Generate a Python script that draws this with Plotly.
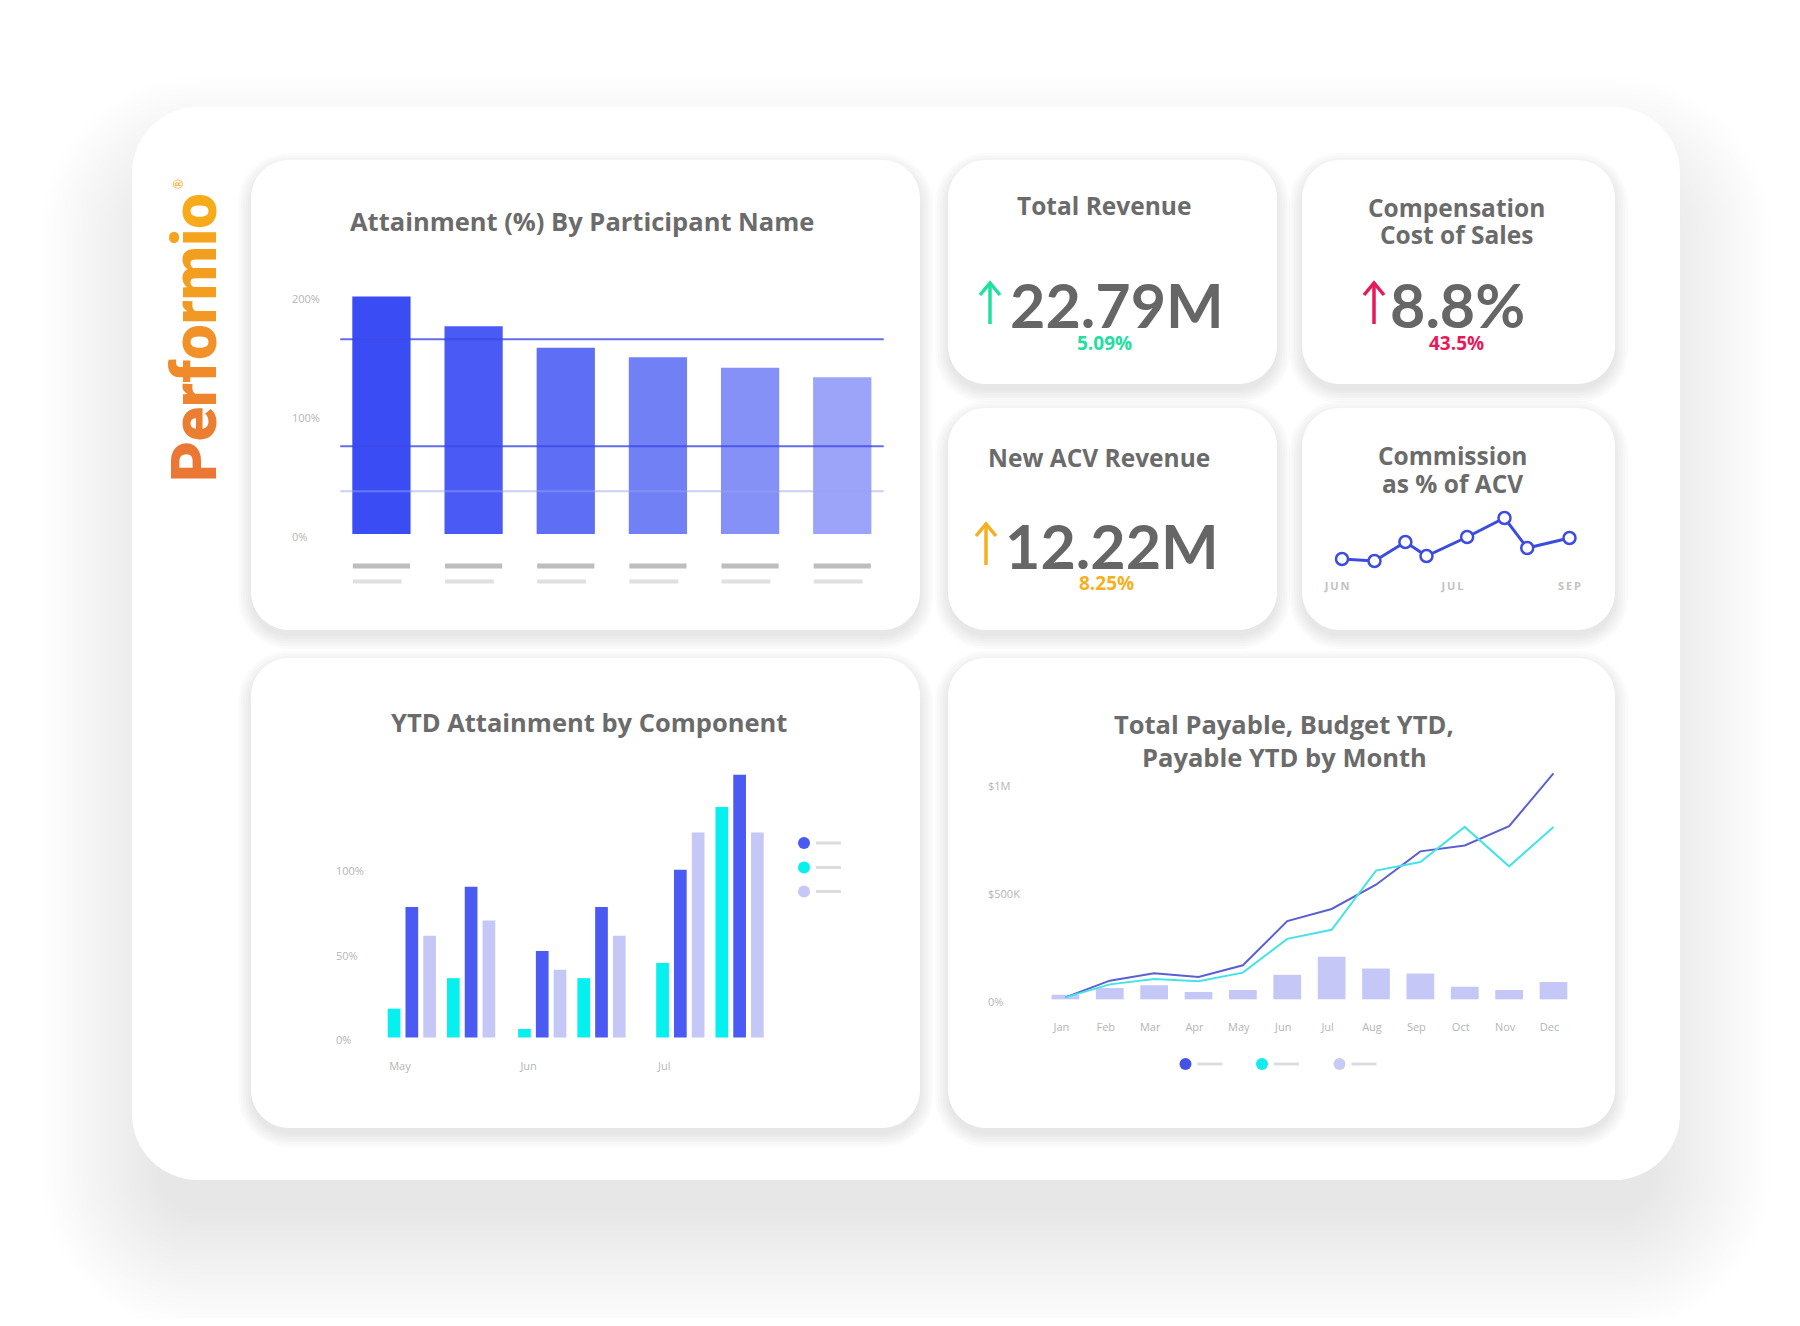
import plotly.graph_objects as go

W, H = 1800, 1326          # reference page
OFF = 8                    # default <body> margin around the plot div
WF, HF = W - 2 * OFF, H - 2 * OFF
TITLE_FONT = "Open Sans"
NUM_FONT = "Lato"
TITLE_GREY = "#6b6b6b"
NUM_GREY = "#666666"
TICK_GREY = "#b5b5b5"

participants = ["P1", "P2", "P3", "P4", "P5", "P6"]          # names are blurred placeholders
attainment = [200, 175, 157, 149, 140, 132]                   # %
attainment_marks = [164, 74, 36]                              # horizontal reference lines, %
bar_blues = ["#3a4df5", "#4a5bf5", "#5e6ef5", "#7280f6", "#8691f7", "#9ba4f9"]

total_revenue, total_revenue_chg = "22.79M", "5.09%"
comp_cost, comp_cost_chg = "8.8%", "43.5%"
new_acv, new_acv_chg = "12.22M", "8.25%"

commission_t = [0, 1, 1.95, 2.6, 3.85, 5, 5.7, 7]             # time position (weeks-ish)
commission_pct = [3.05, 2.95, 3.9, 3.2, 4.15, 5.1, 3.6, 4.1]
commission_months = ["J\u2009U\u2009N", "J\u2009U\u2009L", "S\u2009E\u2009P"]

ytd_period = [0, 1, 2.2, 3.2, 4.53, 5.53]                     # two periods per month
ytd_months = ["May", "Jun", "Jul"]
ytd_comp_a = [17, 35, 5, 35, 44, 136]                         # cyan
ytd_comp_b = [77, 89, 51, 77, 99, 155]                        # blue
ytd_comp_c = [60, 69, 40, 60, 121, 121]                       # lavender

months = ["Jan", "Feb", "Mar", "Apr", "May", "Jun",
          "Jul", "Aug", "Sep", "Oct", "Nov", "Dec"]
total_payable = [21, 52, 65, 34, 43, 113, 197, 142, 119, 58, 43, 80]       # $K
budget_ytd = [9, 86, 120, 103, 157, 361, 417, 529, 683, 710, 799, 1043]    # $K
payable_ytd = [9, 69, 94, 83, 123, 279, 321, 594, 634, 796, 614, 796]      # $K

CYAN, BLUE, LAV = "#05f0ef", "#4a5af2", "#c5c8f7"


# --- pixel helpers (layout measured on the 1800x1326 page) -----------------
def X(px):
    return (px - OFF) / WF


def Y(py):
    return 1 - (py - OFF) / HF


def xdom(a, b):
    return [X(a), X(b)]


def ydom(top, bottom):
    return [Y(bottom), Y(top)]


def rrect(x0, y0, x1, y1, r):
    k = 0.5523 * r
    p = [f"M {X(x0 + r)},{Y(y0)}", f"L {X(x1 - r)},{Y(y0)}",
         f"C {X(x1 - r + k)},{Y(y0)} {X(x1)},{Y(y0 + r - k)} {X(x1)},{Y(y0 + r)}",
         f"L {X(x1)},{Y(y1 - r)}",
         f"C {X(x1)},{Y(y1 - r + k)} {X(x1 - r + k)},{Y(y1)} {X(x1 - r)},{Y(y1)}",
         f"L {X(x0 + r)},{Y(y1)}",
         f"C {X(x0 + r - k)},{Y(y1)} {X(x0)},{Y(y1 - r + k)} {X(x0)},{Y(y1 - r)}",
         f"L {X(x0)},{Y(y0 + r)}",
         f"C {X(x0)},{Y(y0 + r - k)} {X(x0 + r - k)},{Y(y0)} {X(x0 + r)},{Y(y0)}", "Z"]
    return " ".join(p)


shapes, notes = [], []


def card(box, r, layers, step, alpha, dy, inset=0):
    # white rounded card with a faked blurred drop shadow (stacked translucent layers)
    x0, y0, x1, y1 = box
    for i in range(layers, 0, -1):
        g = i * step - inset
        shapes.append(dict(type="path", xref="paper", yref="paper", layer="below",
                           path=rrect(x0 - g, y0 - g + dy, x1 + g, y1 + g + dy, max(r + g, 4)),
                           fillcolor=f"rgba(0,0,0,{alpha})", line_width=0))
    shapes.append(dict(type="path", xref="paper", yref="paper", layer="below",
                       path=rrect(x0, y0, x1, y1, r), fillcolor="white", line_width=0))


def text(s, x, y, size, color=TITLE_GREY, family=TITLE_FONT, weight="bold",
         xanchor="center", angle=0):
    notes.append(dict(text=s, x=X(x), y=Y(y), xref="paper", yref="paper",
                      xanchor=xanchor, yanchor="middle", showarrow=False, textangle=angle,
                      font=dict(family=family, size=size, color=color, weight=weight)))


def up_arrow(cx, top, bottom, color):
    shapes.append(dict(type="path", xref="paper", yref="paper",
                       path=f"M {X(cx)},{Y(bottom)} L {X(cx)},{Y(top + 1)}",
                       line=dict(color=color, width=3.5)))
    shapes.append(dict(type="path", xref="paper", yref="paper",
                       path=f"M {X(cx - 10)},{Y(top + 12)} L {X(cx)},{Y(top)} L {X(cx + 10)},{Y(top + 12)}",
                       line=dict(color=color, width=3.5)))


def legend_dots(xs, ys, colors, line_len=25):
    for cx, cy, c in zip(xs, ys, colors):
        shapes.append(dict(type="circle", xref="paper", yref="paper",
                           x0=X(cx - 6), x1=X(cx + 6), y0=Y(cy + 6), y1=Y(cy - 6),
                           fillcolor=c, line_width=0))
        shapes.append(dict(type="line", xref="paper", yref="paper",
                           x0=X(cx + 12), x1=X(cx + 12 + line_len), y0=Y(cy), y1=Y(cy),
                           line=dict(color="#dcdcdc", width=3)))


# --- background cards ------------------------------------------------------
card((132, 107, 1680, 1180), 66, 24, 5, 0.005, 60, inset=30)
for box in [(251, 160, 920, 630), (948, 160, 1277, 384), (1302, 160, 1615, 384),
            (948, 408, 1277, 630), (1302, 408, 1615, 630),
            (251, 658, 920, 1128), (948, 658, 1615, 1128)]:
    card(box, 38, 6, 2.5, 0.014, 6, inset=2)

# --- logo --------------------------------------------------------------------
logo = "Performio"
c0, c1 = (235, 119, 52), (247, 171, 26)
spans = []
for i, ch in enumerate(logo):
    t = i / (len(logo) - 1)
    rgb = tuple(round(a + (b - a) * t) for a, b in zip(c0, c1))
    spans.append(f"<span style='color:rgb{rgb}'>{ch}</span>")
notes.append(dict(text="".join(spans), x=X(195), y=Y(338), xref="paper", yref="paper",
                  xanchor="center", yanchor="middle", showarrow=False, textangle=-90,
                  font=dict(family="Roboto", size=63, weight=900)))
text("®", 179, 184, 12, "#f5a623", weight="normal", angle=-90)

fig = go.Figure()

# --- Attainment (%) By Participant Name -------------------------------------
part_idx = list(range(len(participants)))
fig.add_trace(go.Bar(x=part_idx, y=attainment, width=0.632, hovertext=participants,
                     marker=dict(color=bar_blues, line_width=0), xaxis="x", yaxis="y"))
for v, col in zip(attainment_marks, ["rgba(60,72,228,0.8)", "rgba(60,72,228,0.8)",
                                     "rgba(150,160,245,0.5)"]):
    shapes.append(dict(type="line", xref="x", yref="y", x0=-0.447, x1=5.45, y0=v, y1=v,
                       line=dict(color=col, width=2)))
for i in part_idx:   # blurred name placeholders under each bar
    shapes.append(dict(type="line", xref="x", yref="y", x0=i - 0.31, x1=i + 0.31,
                       y0=-27, y1=-27, line=dict(color="#bdbdbd", width=5)))
    shapes.append(dict(type="line", xref="x", yref="y", x0=i - 0.31, x1=i + 0.22,
                       y0=-40, y1=-40, line=dict(color="#e0e0e0", width=4)))
text("Attainment (%) By Participant Name", 582, 221, 25.5)

# --- KPI cards -----------------------------------------------------------------
text("Total Revenue", 1104, 205, 24.5)
up_arrow(990, 283, 324, "#1fe0a0")
text(total_revenue, 1008, 304, 61, NUM_GREY, NUM_FONT, xanchor="left")
text(total_revenue_chg, 1104, 343, 19, "#1fe0a0")

text("Compensation", 1456, 207, 24.5)
text("Cost of Sales", 1456, 234, 24.5)
up_arrow(1374, 283, 324, "#e8195a")
text(comp_cost, 1388, 304, 61, NUM_GREY, NUM_FONT, xanchor="left")
text(comp_cost_chg, 1456, 343, 19, "#e8195a")

text("New ACV Revenue", 1099, 457, 24.5)
up_arrow(986, 524, 565, "#f5b021")
text(new_acv, 1003, 545, 61, NUM_GREY, NUM_FONT, xanchor="left")
text(new_acv_chg, 1106, 583, 19, "#f5b021")

text("Commission", 1452, 456, 24.5)
text("as % of ACV", 1452, 483, 24.5)
fig.add_trace(go.Scatter(x=commission_t, y=commission_pct, mode="lines+markers",
                         line=dict(color="#3d4ce0", width=3),
                         marker=dict(size=12, color="white", line=dict(color="#3d4ce0", width=2.5)),
                         xaxis="x2", yaxis="y2"))

# --- YTD Attainment by Component --------------------------------------------
for vals, col in [(ytd_comp_a, CYAN), (ytd_comp_b, BLUE), (ytd_comp_c, LAV)]:
    fig.add_trace(go.Bar(x=ytd_period, y=vals, marker=dict(color=col, line_width=0),
                         xaxis="x3", yaxis="y3"))
text("YTD Attainment by Component", 589, 722, 25.5)
legend_dots([804, 804, 804], [843, 867.5, 891.5], [BLUE, CYAN, LAV])

# --- Total Payable, Budget YTD, Payable YTD by Month ------------------------
month_idx = list(range(len(months)))
fig.add_trace(go.Bar(x=month_idx, y=total_payable, width=0.625, name="Total Payable",
                     marker=dict(color=LAV, line_width=0), xaxis="x4", yaxis="y4"))
fig.add_trace(go.Scatter(x=month_idx, y=budget_ytd, mode="lines", name="Budget YTD",
                         line=dict(color="#5a5fd6", width=2), xaxis="x4", yaxis="y4"))
fig.add_trace(go.Scatter(x=month_idx, y=payable_ytd, mode="lines", name="Payable YTD",
                         line=dict(color="#45e3e8", width=2), xaxis="x4", yaxis="y4"))
text("Total Payable, Budget YTD,", 1284, 724, 25.5)
text("Payable YTD by Month", 1284, 757, 25.5)
legend_dots([1185.5, 1262, 1339.5], [1064, 1064, 1064], ["#4452e6", "#10ecef", "#c8cbf5"])

tickfont = dict(family=TITLE_FONT, size=11, color=TICK_GREY)
hidden = dict(showgrid=False, zeroline=False, showline=False, ticks="")

fig.update_layout(
    width=WF, height=HF, margin=dict(l=0, r=0, t=0, b=0),
    paper_bgcolor="white", plot_bgcolor="rgba(0,0,0,0)",
    showlegend=False, barmode="group", bargap=0.1, bargroupgap=0.286,
    shapes=shapes, annotations=notes,
    xaxis=dict(domain=xdom(289, 884), range=[-1.003, 5.453], anchor="y",
               showticklabels=False, **hidden),
    yaxis=dict(domain=ydom(280, 590), range=[-47.2, 214], anchor="x", tickvals=[0, 100, 200],
               ticktext=["0%", "100%", "200%"], ticklabelposition="inside", ticklabelshift=3,
               tickfont=tickfont, **hidden),
    xaxis2=dict(domain=xdom(1320, 1590), range=[-0.677, 7.631], anchor="y2",
                tickvals=[-0.15, 3.4, 7.0], ticktext=commission_months,
                tickfont=dict(family=TITLE_FONT, size=11, color="#c2c2c2", weight="bold"), **hidden),
    yaxis2=dict(domain=ydom(498, 578), range=[2.1, 6.1], anchor="x2", showticklabels=False, **hidden),
    xaxis3=dict(domain=xdom(333, 790), range=[-1.33, 6.38], anchor="y3",
                tickvals=[-0.2, 1.97, 4.26], ticktext=ytd_months, tickfont=tickfont, **hidden),
    yaxis3=dict(domain=ydom(760, 1058), range=[-12.09, 163.7], anchor="x3", tickvals=[0, 50, 100],
                ticktext=["0%", "50%", "100%"], ticklabelposition="inside", ticklabelshift=3,
                tickfont=tickfont, **hidden),
    xaxis4=dict(domain=xdom(985, 1590), range=[-1.812, 11.823], anchor="y4", tickvals=month_idx,
                ticktext=months, ticklabelshift=-4, tickfont=tickfont, **hidden),
    yaxis4=dict(domain=ydom(765, 1019), range=[-90.9, 1081.7], anchor="x4", tickvals=[0, 500, 1000],
                ticktext=["0%", "$500K", "$1M"], ticklabelposition="inside", ticklabelshift=3,
                tickfont=tickfont, **hidden),
)

fig.write_html("out.html")
